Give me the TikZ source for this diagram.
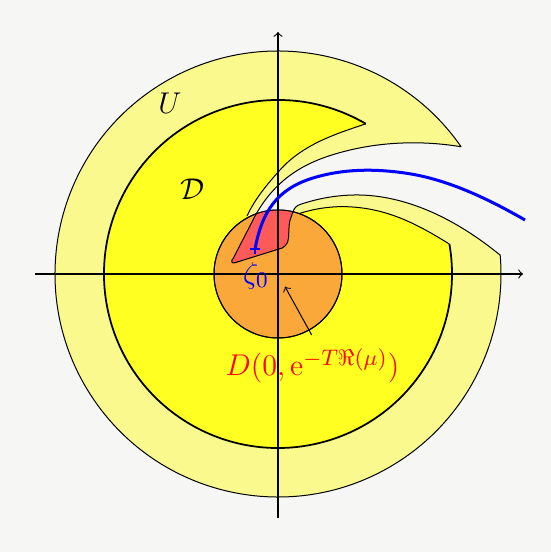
\documentclass[tikz,border=0pt]{standalone}
\definecolor{bgc}{RGB}{246,246,244}
\definecolor{ulight}{RGB}{249,249,142}
\definecolor{dyel}{RGB}{255,255,34}
\definecolor{dorange}{RGB}{250,168,58}
\definecolor{dred}{RGB}{255,90,90}
\begin{document}
\begin{tikzpicture}[x=0.4pt,y=0.4pt,
  outline/.style={draw=black,line width=0.4pt},
  axisline/.style={line width=0.45pt,->,>=to},
  lab/.style={font=\fontsize{13}{16}\selectfont,inner sep=0pt}]
\fill[bgc] (-278,-278) rectangle (273,274);
\useasboundingbox (-278,-278) rectangle (273,274);
\def\channel{-- (222,19) .. controls (187.1,47.4) and (146.5,70.6) .. (102,77.3) .. controls (75.3,81.3) and (47.6,78.2) .. (22,69.5) .. controls (18.5,68.3) and (16,66) .. (14.5,61) .. controls (13,56) and (11,53) .. (11,46) -- (10.5,36) .. controls (10.3,30) and (6,25.5) .. (0,24.7) -- (-43,11.3) .. controls (-46,10.3) and (-48,12.5) .. (-44.7,15.7) -- (-24,56) .. controls (-7.6,86.9) and (15.6,106) .. (48.7,117.3) .. controls (91.3,131.8) and (138.3,134.6) .. (182.7,127.3)}
\def\Dlower{(171.4,29.9) .. controls (135.8,52.2) and (106.7,66) .. (68.7,67.3) .. controls (51.7,67.9) and (33,64.8) .. (17,59)}
\def\Dupper{(-31,58) .. controls (-23,75.2) and (-10.7,89.9) .. (2,104) .. controls (24.8,129.3) and (55.6,139.4) .. (87.8,150.2)}
% U region
\filldraw[fill=ulight,outline] (34.9:223) arc[start angle=34.9,end angle=364.9,radius=223] \channel -- cycle;
% D region
\fill[dyel] (59.7:174) arc[start angle=59.7,end angle=369.9,radius=174] -- \Dlower -- (0,40) -- \Dupper -- cycle;
\draw[line width=0.7pt] (59.7:174) arc[start angle=59.7,end angle=369.9,radius=174];
\draw[outline] \Dlower;
\draw[outline] \Dupper;
% small disk
\filldraw[fill=dorange,outline] (0,0) circle[radius=64];
\begin{scope}
  \clip (0,0) circle[radius=64];
  \filldraw[fill=dred,outline] (222,19) \channel -- cycle;
\end{scope}
\draw[outline] (0,0) circle[radius=64];
% axes
\coordinate (xl) at (-243,0);
\coordinate (xr) at (245,0);
\coordinate (yb) at (0,-244);
\coordinate (yt) at (0,242);
\draw[axisline] (xl) -- (xr);
\draw[axisline] (yb) -- (yt);
% blue path
\coordinate (z0) at (-23,24.7);
\coordinate (bend) at (247,54);
\draw[blue,line width=1.2pt] (z0) .. controls (-16.2,62.1) and (-1.3,84.9) .. (35,96) .. controls (65.6,105.4) and (97.1,105.4) .. (128.7,100.7) .. controls (170.2,94.5) and (210.6,74.9) .. (bend);
\draw[blue,line width=0.9pt] ([xshift=-2pt]z0) -- ([xshift=2pt]z0) ([yshift=-1.7pt]z0) -- ([yshift=1.7pt]z0);
% labels
\node[lab] (Ulab) at (-108,170.5) {$U$};
\node[lab] (Dlab) at (-86,85) {$\mathcal{D}$};
\node[lab,text=blue] (zlab) at (-22,-2) {$\zeta_0$};
\node[lab,text=red,anchor=base] (disklab) at (34.5,-102) {$D(0,\mathrm{e}^{-T\Re(\mu)})$};
\coordinate (arrS) at (33.7,-61);
\coordinate (arrE) at (7,-12.7);
\draw[->,>=to,line width=0.4pt] (arrS) -- (arrE);
\end{tikzpicture}
\end{document}
